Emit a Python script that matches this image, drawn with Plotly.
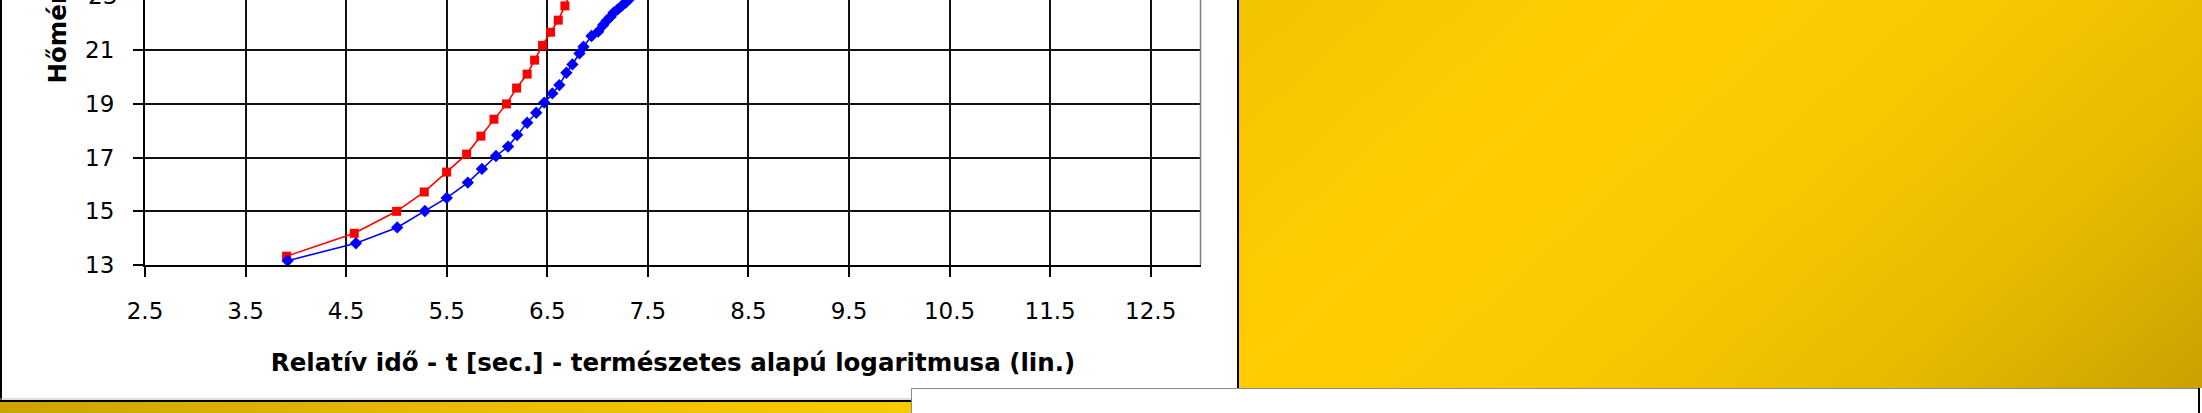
import base64
import plotly.graph_objects as go

# ---------------- data ----------------
red_x = [3.908, 4.581, 5.002, 5.277, 5.499, 5.698, 5.840, 5.970, 6.095, 6.195,
         6.300, 6.374, 6.453, 6.533, 6.609, 6.675, 6.740]
red_y = [13.33, 14.18, 15.00, 15.72, 16.46, 17.13, 17.80, 18.43, 19.00, 19.59,
         20.11, 20.63, 21.18, 21.67, 22.12, 22.65, 23.20]

blue_x = [3.918, 4.597, 5.008, 5.283, 5.500, 5.710, 5.850, 5.990, 6.110, 6.200,
          6.300, 6.390, 6.470, 6.550, 6.620, 6.690, 6.750, 6.820, 6.860, 6.940,
          7.006, 7.056, 7.090, 7.130, 7.160, 7.200, 7.240, 7.280, 7.320]
blue_y = [13.16, 13.81, 14.40, 15.01, 15.50, 16.07, 16.58, 17.06, 17.41, 17.84,
          18.30, 18.67, 19.05, 19.39, 19.70, 20.16, 20.47, 20.88, 21.13, 21.53,
          21.69, 21.94, 22.10, 22.25, 22.40, 22.52, 22.65, 22.77, 22.92]

x_ticks = [2.5, 3.5, 4.5, 5.5, 6.5, 7.5, 8.5, 9.5, 10.5, 11.5, 12.5]
x_tick_text = ["2.5", "3.5", "4.5", "5.5", "6.5", "7.5", "8.5", "9.5", "10.5", "11.5", "12.5"]
y_ticks = [13, 15, 17, 19, 21]
y_hidden_top_label = "23"

x_title = "Relatív idő - t [sec.] - természetes alapú logaritmusa (lin.)"
y_title = "Hőmérséklet - T [°C]"

# ---------------- layout geometry ----------------
W, H = 2202, 413
L, R, T, B = 145, 1001, 0, 148
PW, PH = W - L - R, H - T - B


def px(X):
    return (X - L) / PW


def py(Y):
    return (H - B - Y) / PH


TICK_FONT = dict(family="DejaVu Sans", size=23, color="#000000")
TITLE_FONT = dict(family="DejaVu Sans", size=24.5, color="#000000", weight="bold")


def svg_uri(svg):
    return "data:image/svg+xml;base64," + base64.b64encode(svg.encode("utf-8")).decode("ascii")


panel_svg = (
    '<svg xmlns="http://www.w3.org/2000/svg" width="963" height="388" viewBox="0 0 963 388" '
    'preserveAspectRatio="none"><defs><linearGradient id="g" gradientUnits="userSpaceOnUse" '
    'x1="0" y1="0" x2="622" y2="694">'
    '<stop offset="0" stop-color="#F2C300"/>'
    '<stop offset="0.30" stop-color="#FFCD00"/>'
    '<stop offset="0.55" stop-color="#F8C700"/>'
    '<stop offset="0.78" stop-color="#E6B900"/>'
    '<stop offset="1" stop-color="#C9A100"/>'
    '</linearGradient></defs><rect width="963" height="388" fill="url(#g)"/></svg>'
)

strip_svg = (
    '<svg xmlns="http://www.w3.org/2000/svg" width="911" height="12" viewBox="0 0 911 12" '
    'preserveAspectRatio="none"><defs><linearGradient id="h" x1="0" y1="0" x2="1" y2="0">'
    '<stop offset="0" stop-color="#CBA300"/>'
    '<stop offset="0.5" stop-color="#E9BA00"/>'
    '<stop offset="1" stop-color="#FACA00"/>'
    '</linearGradient></defs><rect width="911" height="12" fill="url(#h)"/></svg>'
)

fig = go.Figure()

fig.add_trace(go.Scatter(
    x=red_x, y=red_y, mode="lines+markers", name="piros",
    line=dict(color="#FF0000", width=1.6),
    marker=dict(symbol="square", size=9, color="#FF0000"),
    showlegend=False, cliponaxis=True,
))
fig.add_trace(go.Scatter(
    x=blue_x, y=blue_y, mode="lines+markers", name="kék",
    line=dict(color="#0000FF", width=1.6),
    marker=dict(symbol="diamond", size=9.5, color="#0000FF"),
    showlegend=False, cliponaxis=True,
))

fig.update_layout(
    width=W, height=H, autosize=False,
    margin=dict(l=L, r=R, t=T, b=B, pad=0),
    paper_bgcolor="#FFFFFF", plot_bgcolor="#FFFFFF",
    showlegend=False,
    xaxis=dict(
        range=[2.5, 13.0], tickvals=x_ticks, ticktext=x_tick_text,
        showgrid=True, gridcolor="#111111", gridwidth=2,
        showline=True, linecolor="#000000", linewidth=2,
        ticks="outside", ticklen=10, tickwidth=2, tickcolor="#000000",
        tickfont=TICK_FONT, ticklabelstandoff=14, zeroline=False,
        title=dict(text=x_title, font=TITLE_FONT, standoff=31),
    ),
    yaxis=dict(
        range=[13.0, 22.87], tickvals=y_ticks,
        showgrid=True, gridcolor="#111111", gridwidth=2,
        showline=True, linecolor="#000000", linewidth=2,
        ticks="outside", ticklen=10, tickwidth=2, tickcolor="#000000",
        tickfont=TICK_FONT, ticklabelstandoff=14, zeroline=False,
    ),
)

# partially visible top tick label and y-axis title (cut by the picture edge)
fig.add_annotation(
    xref="paper", yref="paper", x=px(119), y=py(-3.5), text=y_hidden_top_label,
    showarrow=False, xanchor="right", yanchor="middle", font=TICK_FONT,
)
fig.add_annotation(
    xref="paper", yref="paper", x=px(57), y=py(86), text=y_title,
    textangle=-90, showarrow=False, xanchor="center", yanchor="bottom", font=TITLE_FONT,
)

fig.add_layout_image(dict(
    source=svg_uri(panel_svg), xref="paper", yref="paper",
    x=px(1239), y=py(0), sizex=963 / PW, sizey=388 / PH,
    xanchor="left", yanchor="top", sizing="stretch", layer="above",
))
fig.add_layout_image(dict(
    source=svg_uri(strip_svg), xref="paper", yref="paper",
    x=px(0), y=py(402), sizex=911 / PW, sizey=14 / PH,
    xanchor="left", yanchor="top", sizing="stretch", layer="above",
))

shapes = [
    # plot area right border (grey)
    dict(type="line", x0=px(1200.5), x1=px(1200.5), y0=py(-5), y1=py(265), line=dict(color="#808080", width=1.5)),
    # chart panel borders
    dict(type="line", x0=px(1), x1=px(1), y0=py(-5), y1=py(402), line=dict(color="#000000", width=2)),
    dict(type="line", x0=px(0), x1=px(911), y0=py(399), y1=py(399), line=dict(color="#BDBDBD", width=1)),
    dict(type="line", x0=px(0), x1=px(911), y0=py(401), y1=py(401), line=dict(color="#000000", width=2)),
    dict(type="line", x0=px(1238), x1=px(1238), y0=py(-5), y1=py(388), line=dict(color="#000000", width=2)),
    # white box at the bottom right
    dict(type="rect", x0=px(911.5), x1=px(2199), y0=py(388.5), y1=py(420),
         fillcolor="#FFFFFF", line=dict(color="#8C8C8C", width=1)),
    dict(type="line", x0=px(2199), x1=px(2199), y0=py(388), y1=py(420), line=dict(color="#000000", width=2)),
]
for s in shapes:
    s.update(xref="paper", yref="paper", layer="above")
    fig.add_shape(**s)

fig.write_html(
    "out.html",
    config={"displayModeBar": False},
    post_script="document.body.style.margin='0px';document.body.style.overflow='hidden';",
)
